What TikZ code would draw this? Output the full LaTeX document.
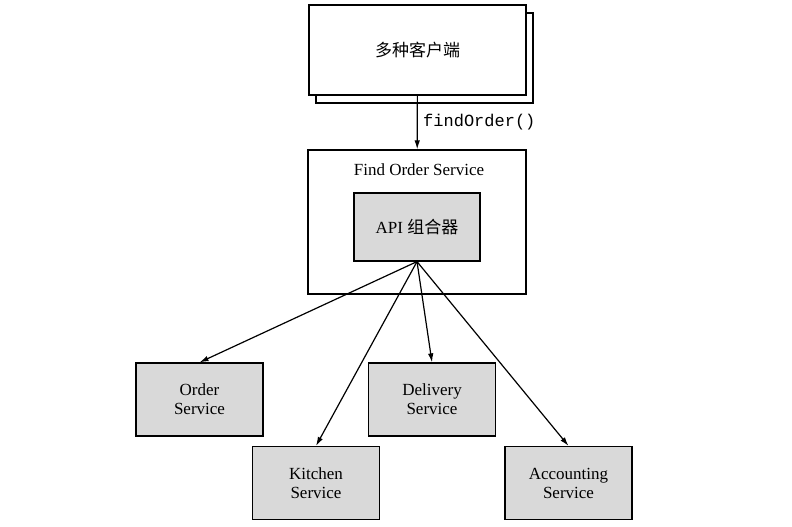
\documentclass[tikz,border=0pt]{standalone}
\usepackage{fontspec}
\setmainfont{Liberation Serif}
\setmonofont{Liberation Mono}
\newfontfamily\cjk{Noto Sans CJK SC}
\usetikzlibrary{arrows.meta}

\begin{document}
\begin{tikzpicture}[x=1bp, y=-1bp, line width=1.2bp,
    every node/.style={font=\fontsize{17bp}{19bp}\selectfont},
    plainbox/.style={draw, fill=white, inner sep=0pt},
    svcbox/.style={draw, fill=gray!30, inner sep=0pt, align=center,
        minimum width=127bp, minimum height=73bp},
    call/.style={-{Latex[length=9bp, width=5.5bp]}}]
    \useasboundingbox (0,0) rectangle (792,527);
    % clients
    \node[plainbox, minimum width=217bp, minimum height=90bp] (back) at (424.5,58) {};
    \node[plainbox, minimum width=217bp, minimum height=90bp] (clients) at (417.5,50) {\cjk 多种客户端};
    % find order service
    \node[plainbox, minimum width=218bp, minimum height=144bp] (fos) at (417,222) {};
    \node (title) at (419,170) {Find Order Service};
    \node[svcbox, minimum width=126bp, minimum height=68bp] (api) at (417,227) {API {\cjk 组合器}};
    \draw[call] (clients) -- node[right, xshift=2bp, font=\fontsize{17bp}{19bp}\ttfamily] {findOrder()} (fos);
    % services
    \node[svcbox] (order) at (199.5,399.5) {Order\\Service};
    \node[svcbox] (delivery) at (432,399.5) {Delivery\\Service};
    \node[svcbox] (kitchen) at (316,483) {Kitchen\\Service};
    \node[svcbox] (accounting) at (568.5,483) {Accounting\\Service};
    \draw[call] (api.south) -- (order.north);
    \draw[call] (api.south) -- (kitchen.north);
    \draw[call] (api.south) -- (delivery.north);
    \draw[call] (api.south) -- (accounting.north);
\end{tikzpicture}
\end{document}
